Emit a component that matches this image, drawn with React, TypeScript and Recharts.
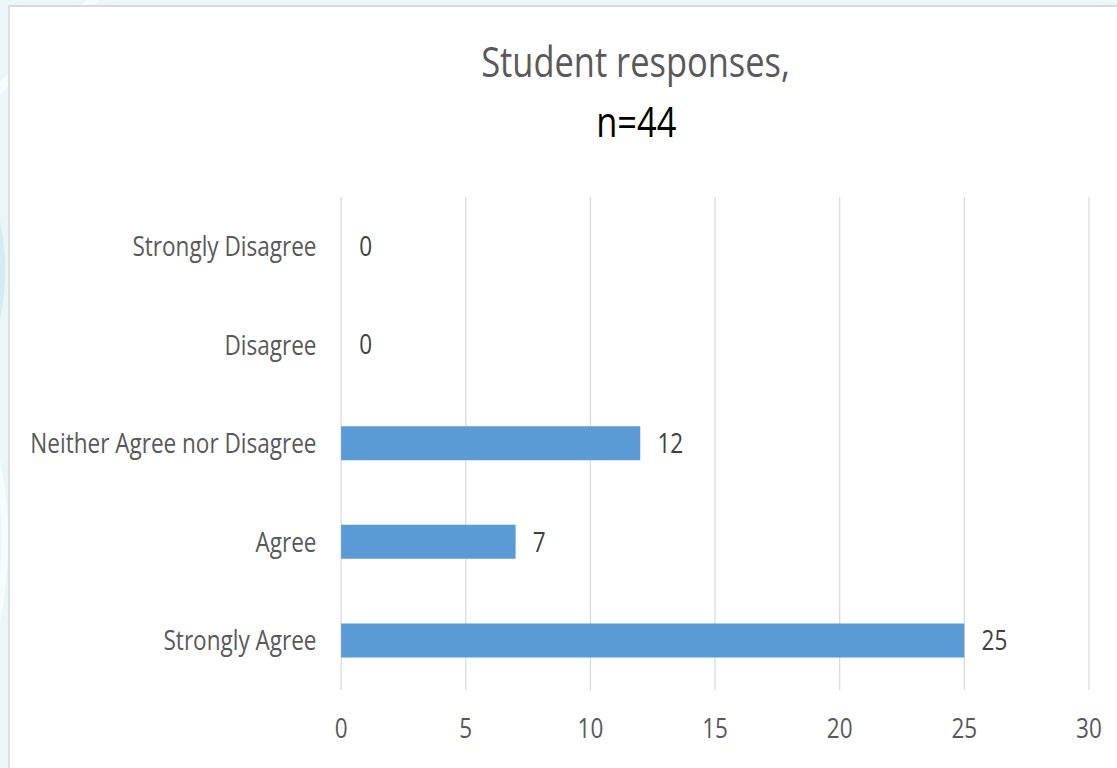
import React from 'react';
import { BarChart, Bar, Cell, XAxis, YAxis, CartesianGrid, LabelList } from 'recharts';

const categories = [
  'Strongly Disagree',
  'Disagree',
  'Neither Agree nor Disagree',
  'Agree',
  'Strongly Agree',
];
const responses = [0, 0, 12, 7, 25];
const xTicks = [0, 5, 10, 15, 20, 25, 30];

const titleLine1 = 'Student responses,';
const titleLine2 = 'n=44';

const data = categories.map((name, i) => ({ name, value: responses[i] }));

// the whole card is drawn wide and squeezed horizontally
const SQUEEZE = 0.82;
const W = 1362;
const H = 768;
const FONT = '"Open Sans", sans-serif';
const BAR_COLOR = '#5b9bd5';

function Backdrop() {
  return (
    <svg width={W} height={H} style={{ position: 'absolute', left: 0, top: 0 }}>
      <rect x={0} y={0} width={W} height={H} fill="#eaf6f8" />
      <path d="M -40 120 Q 60 40 140 -20" stroke="#f7fcfd" strokeWidth={10} fill="none" />
      <path d="M -60 420 Q 40 300 -20 180" stroke="#d4ecf0" strokeWidth={8} fill="none" />
      <path d="M -30 700 Q 30 560 -10 440" stroke="#f7fcfd" strokeWidth={8} fill="none" />
      <rect x={11} y={6} width={W} height={H} fill="#ffffff" stroke="#d9d9d9" strokeWidth={2} />
      <text x={775} y={77} textAnchor="middle" fontFamily={FONT} fontSize={42} fill="#595959">
        {titleLine1}
      </text>
      <text x={776} y={137} textAnchor="middle" fontFamily={FONT} fontSize={42} fill="#000000">
        {titleLine2}
      </text>
    </svg>
  );
}

export default function App() {
  return (
    <div style={{ position: 'absolute', left: 0, top: 0, width: 1117, height: H, overflow: 'hidden' }}>
      <div
        style={{
          position: 'relative',
          width: W,
          height: H,
          transform: `scaleX(${SQUEEZE})`,
          transformOrigin: '0 0',
        }}
      >
        <Backdrop />
        <div style={{ position: 'absolute', left: 0, top: 0 }}>
          <BarChart
            width={W}
            height={H}
            data={data}
            layout="vertical"
            margin={{ top: 197, right: 34, left: 0, bottom: 18 }}
          >
            <CartesianGrid horizontal={false} stroke="#d9d9d9" strokeWidth={1.5} />
            <XAxis
              type="number"
              domain={[0, 30]}
              ticks={xTicks}
              axisLine={false}
              tickLine={false}
              tickMargin={22}
              height={60}
              tick={{ fontSize: 27.5, fill: '#595959', fontFamily: FONT }}
            />
            <YAxis
              type="category"
              dataKey="name"
              width={416}
              axisLine={false}
              tickLine={false}
              tickMargin={24}
              interval={0}
              tick={{ fontSize: 27.5, fill: '#595959', fontFamily: FONT }}
            />
            {/* minPointSize keeps the zero rows so their "0" labels still show */}
            <Bar dataKey="value" barSize={34} minPointSize={1} isAnimationActive={false}>
              {data.map((d) => (
                <Cell key={d.name} fill={d.value === 0 ? 'transparent' : BAR_COLOR} />
              ))}
              <LabelList
                dataKey="value"
                position="right"
                offset={21}
                fill="#404040"
                fontSize={27.5}
                fontFamily={FONT}
              />
            </Bar>
          </BarChart>
        </div>
      </div>
    </div>
  );
}
